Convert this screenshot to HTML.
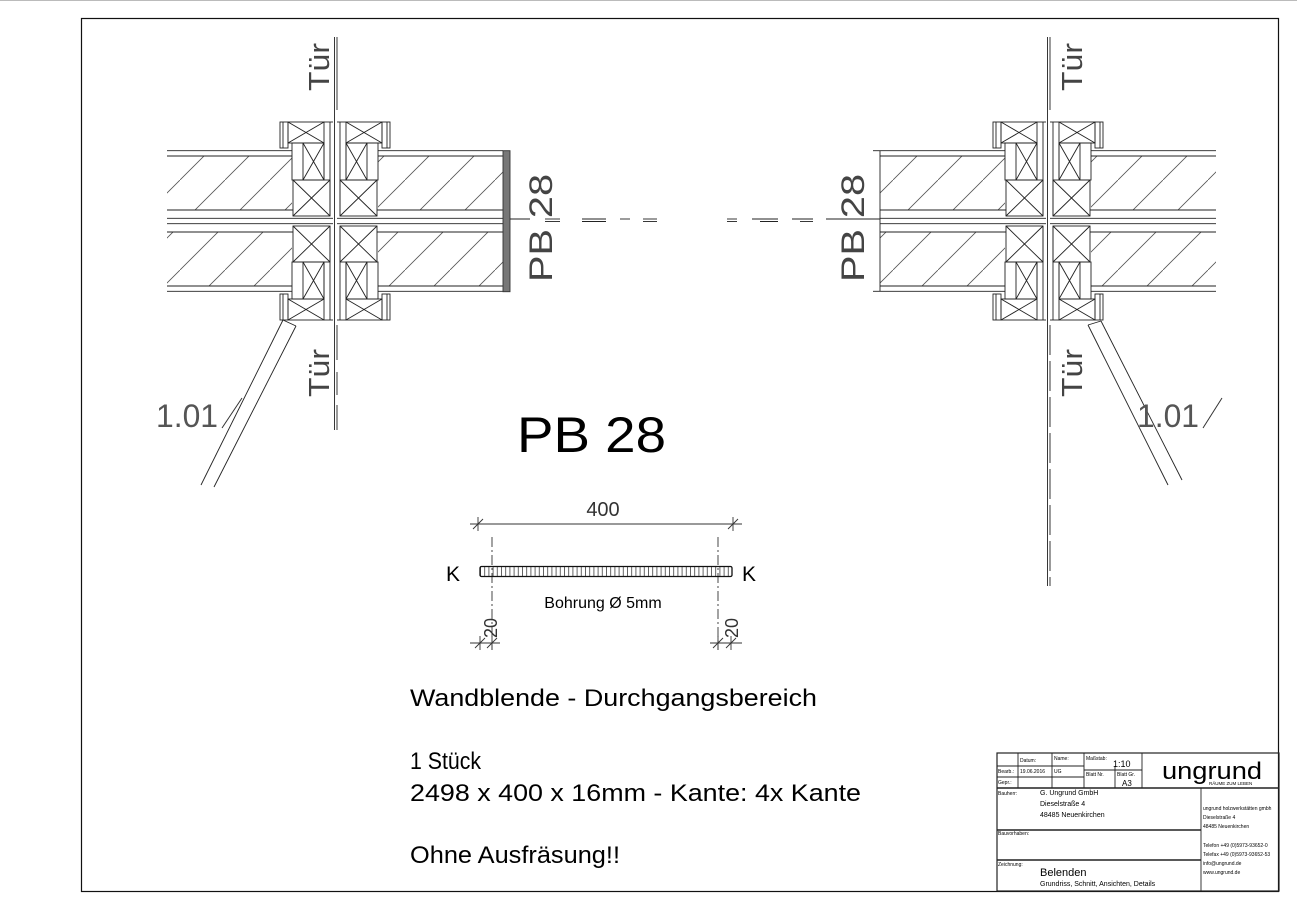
<!DOCTYPE html>
<html><head><meta charset="utf-8"><style>html,body{margin:0;padding:0;background:#fff}svg{display:block}</style></head>
<body>
<svg width="1297" height="910" viewBox="0 0 1297 910" xmlns="http://www.w3.org/2000/svg" font-family="Liberation Sans, sans-serif">
<defs>
<pattern id="h" patternUnits="userSpaceOnUse" width="45" height="45" x="0" y="0">
<line x1="-2" y1="47" x2="47" y2="-2" stroke="#555" stroke-width="0.8"/>
</pattern>
<pattern id="v" patternUnits="userSpaceOnUse" width="4.2" height="20" x="480" y="0">
<line x1="0.5" y1="0" x2="0.5" y2="20" stroke="#222" stroke-width="0.7"/>
</pattern>
<g id="q" fill="none" stroke="#222" stroke-width="0.9">
<line x1="167" y1="150.7" x2="292" y2="150.7"/>
<line x1="167" y1="156" x2="292" y2="156"/>
<line x1="167" y1="210" x2="293" y2="210"/>
<line x1="167" y1="218.3" x2="333" y2="218.3"/>
<rect x="280" y="122" width="8" height="26"/>
<line x1="283" y1="122" x2="283" y2="148"/>
<rect x="288" y="122" width="36" height="21"/>
<line x1="288" y1="122" x2="324" y2="143"/><line x1="324" y1="122" x2="288" y2="143"/>
<rect x="292" y="143" width="32" height="37"/>
<rect x="303" y="143" width="21" height="37"/>
<line x1="303" y1="143" x2="324" y2="180"/><line x1="324" y1="143" x2="303" y2="180"/>
<rect x="293" y="180" width="37" height="36"/>
<line x1="293" y1="180" x2="330" y2="216"/><line x1="330" y1="180" x2="293" y2="216"/>
<line x1="324" y1="122" x2="333" y2="122"/>
<line x1="330" y1="122" x2="330" y2="216"/>
</g>
<g id="half">
<rect x="167" y="156.5" width="125" height="53" fill="url(#h)"/>
<rect x="378" y="156.5" width="125" height="53" fill="url(#h)"/>
<rect x="167" y="232.5" width="125" height="53" fill="url(#h)"/>
<rect x="378" y="232.5" width="125" height="53" fill="url(#h)"/>
<use href="#q"/>
<use href="#q" transform="matrix(-1,0,0,1,670,0)"/>
<use href="#q" transform="matrix(1,0,0,-1,0,442)"/>
<use href="#q" transform="matrix(-1,0,0,-1,670,442)"/>
</g>
</defs>

<line x1="0" y1="0.5" x2="1297" y2="0.5" stroke="#bbb" stroke-width="1"/>
<rect x="81.5" y="18.5" width="1197" height="873" fill="none" stroke="#111" stroke-width="1.2"/>

<!-- LEFT DETAIL -->
<use href="#half"/>
<g fill="none" stroke="#222" stroke-width="0.9">
<rect x="503" y="150.7" width="7" height="141" fill="#777" stroke="#333"/>
<line x1="510" y1="219" x2="530" y2="219"/>
<line x1="545" y1="219" x2="560" y2="219"/><line x1="545" y1="221.5" x2="560" y2="221.5"/>
<line x1="582" y1="219" x2="606" y2="219"/><line x1="582" y1="221.5" x2="606" y2="221.5"/>
<line x1="620" y1="219" x2="630" y2="219"/>
<line x1="643" y1="219" x2="657" y2="219"/><line x1="643" y1="221.5" x2="657" y2="221.5"/>
<line x1="334.5" y1="37" x2="334.5" y2="110"/>
<line x1="337" y1="37" x2="337" y2="110"/>
<line x1="334.5" y1="110" x2="334.5" y2="430"/>
<line x1="337" y1="325" x2="337" y2="360"/>
<line x1="337" y1="372" x2="337" y2="395"/>
<line x1="337" y1="405" x2="337" y2="430"/>
<line x1="283" y1="320" x2="201" y2="485"/>
<line x1="296" y1="326" x2="214" y2="487"/>
<line x1="283" y1="320" x2="296" y2="326"/>
</g>
<text transform="translate(329,91) rotate(-90)" font-size="29" fill="#444" textLength="48" lengthAdjust="spacingAndGlyphs">Tür</text>
<text transform="translate(329,397) rotate(-90)" font-size="29" fill="#444" textLength="48" lengthAdjust="spacingAndGlyphs">Tür</text>
<text transform="translate(552,282) rotate(-90)" font-size="32" fill="#444" textLength="108" lengthAdjust="spacingAndGlyphs">PB 28</text>
<text x="156" y="427" font-size="32" fill="#555" textLength="62" lengthAdjust="spacingAndGlyphs">1.01</text>
<line x1="222" y1="428" x2="242" y2="398" stroke="#333" stroke-width="1"/>

<!-- RIGHT DETAIL -->
<use href="#half" transform="translate(713,0)"/>
<g fill="none" stroke="#222" stroke-width="0.9">
<line x1="880" y1="150.7" x2="880" y2="291.3"/>
<line x1="873" y1="150.7" x2="880" y2="150.7"/>
<line x1="873" y1="291.3" x2="880" y2="291.3"/>
<line x1="727" y1="219" x2="737" y2="219"/><line x1="727" y1="221.5" x2="737" y2="221.5"/>
<line x1="752" y1="219" x2="778" y2="219"/><line x1="760" y1="221.5" x2="778" y2="221.5"/>
<line x1="792" y1="219" x2="813" y2="219"/><line x1="800" y1="221.5" x2="813" y2="221.5"/>
<line x1="826" y1="219" x2="880" y2="219"/>
<line x1="1047.5" y1="37" x2="1047.5" y2="586"/>
<line x1="1050" y1="37" x2="1050" y2="110"/>
<line x1="1050" y1="325" x2="1050" y2="586" stroke-dasharray="30,6"/>
<line x1="1088" y1="325" x2="1168" y2="485"/>
<line x1="1101" y1="321" x2="1182" y2="480"/>
<line x1="1088" y1="325" x2="1101" y2="321"/>
</g>
<text transform="translate(1082,91) rotate(-90)" font-size="29" fill="#444" textLength="48" lengthAdjust="spacingAndGlyphs">Tür</text>
<text transform="translate(1082,397) rotate(-90)" font-size="29" fill="#444" textLength="48" lengthAdjust="spacingAndGlyphs">Tür</text>
<text transform="translate(864,282) rotate(-90)" font-size="32" fill="#444" textLength="108" lengthAdjust="spacingAndGlyphs">PB 28</text>
<text x="1137" y="427" font-size="32" fill="#555" textLength="62" lengthAdjust="spacingAndGlyphs">1.01</text>
<line x1="1203" y1="428" x2="1222" y2="398" stroke="#333" stroke-width="1"/>

<text x="517" y="452" font-size="50" fill="#000" textLength="149" lengthAdjust="spacingAndGlyphs">PB 28</text>

<g stroke="#333" stroke-width="0.9" fill="none">
<line x1="470" y1="524" x2="742" y2="524"/>
<line x1="478" y1="517" x2="478" y2="531"/><line x1="473" y1="529" x2="483" y2="519"/>
<line x1="733" y1="517" x2="733" y2="531"/><line x1="728" y1="529" x2="738" y2="519"/>
<line x1="492" y1="537" x2="492" y2="650" stroke-dasharray="10,3,2,3"/>
<line x1="718" y1="537" x2="718" y2="650" stroke-dasharray="10,3,2,3"/>
<rect x="480" y="566.5" width="252" height="10" fill="url(#v)" stroke="#111" stroke-width="1.3" rx="1.5"/>
<line x1="470" y1="643" x2="500" y2="643"/>
<line x1="480" y1="636" x2="480" y2="650"/><line x1="475" y1="648" x2="485" y2="638"/>
<line x1="492" y1="636" x2="492" y2="650"/><line x1="487" y1="648" x2="497" y2="638"/>
<line x1="710" y1="643" x2="742" y2="643"/>
<line x1="718" y1="636" x2="718" y2="650"/><line x1="713" y1="648" x2="723" y2="638"/>
<line x1="731" y1="636" x2="731" y2="650"/><line x1="726" y1="648" x2="736" y2="638"/>
</g>
<text x="603" y="516" font-size="20" fill="#333" text-anchor="middle">400</text>
<text x="446" y="581" font-size="21" fill="#000">K</text>
<text x="742" y="581" font-size="21" fill="#000">K</text>
<text x="603" y="608" font-size="16" fill="#000" text-anchor="middle">Bohrung Ø 5mm</text>
<text transform="translate(497,638) rotate(-90)" font-size="18" fill="#333">20</text>
<text transform="translate(738,638) rotate(-90)" font-size="18" fill="#333">20</text>

<text x="410" y="706" font-size="24.5" fill="#000" textLength="407" lengthAdjust="spacingAndGlyphs">Wandblende - Durchgangsbereich</text>
<text x="410" y="769" font-size="24" fill="#000" textLength="71" lengthAdjust="spacingAndGlyphs">1 Stück</text>
<text x="410" y="801" font-size="24.5" fill="#000" textLength="451" lengthAdjust="spacingAndGlyphs">2498 x 400 x 16mm - Kante: 4x Kante</text>
<text x="410" y="863" font-size="24.5" fill="#000" textLength="210" lengthAdjust="spacingAndGlyphs">Ohne Ausfräsung!!</text>

<g stroke="#222" stroke-width="0.9" fill="none">
<rect x="997" y="753" width="282" height="138" stroke-width="1.2"/>
<line x1="997" y1="788" x2="1279" y2="788" stroke-width="1.4"/>
<line x1="997" y1="830" x2="1201" y2="830" stroke-width="1.4"/>
<line x1="997" y1="860" x2="1201" y2="860" stroke-width="1.4"/>
<line x1="1201" y1="788" x2="1201" y2="891"/>
<line x1="1018" y1="753" x2="1018" y2="788"/>
<line x1="1052" y1="753" x2="1052" y2="788"/>
<line x1="1084" y1="753" x2="1084" y2="788"/>
<line x1="1142" y1="753" x2="1142" y2="788"/>
<line x1="1115" y1="766" x2="1115" y2="788"/>
<line x1="997" y1="766" x2="1084" y2="766"/>
<line x1="997" y1="777" x2="1084" y2="777"/>
<line x1="1084" y1="770" x2="1142" y2="770"/>
</g>
<g font-size="5" fill="#000">
<text x="1020" y="762">Datum:</text><text x="1054" y="760">Name:</text><text x="1086" y="760">Maßstab:</text>
<text x="998" y="773">Bearb.:</text><text x="1020" y="773">19.06.2016</text><text x="1054" y="773">UG</text>
<text x="1086" y="776">Blatt Nr.</text><text x="1117" y="776">Blatt Gr.</text>
<text x="998" y="784">Gepr.:</text>
<text x="998" y="795">Bauherr:</text>
<text x="998" y="835">Bauvorhaben:</text>
<text x="998" y="866">Zeichnung:</text>
<text x="1203" y="810">ungrund holzwerkstätten gmbh</text>
<text x="1203" y="819">Dieselstraße 4</text>
<text x="1203" y="828">48485 Neuenkirchen</text>
<text x="1203" y="847">Telefon +49 (0)5973-93652-0</text>
<text x="1203" y="856">Telefax +49 (0)5973-93652-53</text>
<text x="1203" y="865">info@ungrund.de</text>
<text x="1203" y="874">www.ungrund.de</text>
</g>
<text x="1113" y="767" font-size="9" fill="#000">1:10</text>
<text x="1122" y="786" font-size="8" fill="#000">A3</text>
<g font-size="7" fill="#000">
<text x="1040" y="795">G. Ungrund GmbH</text>
<text x="1040" y="806">Dieselstraße 4</text>
<text x="1040" y="817">48485 Neuenkirchen</text>
<text x="1040" y="886">Grundriss, Schnitt, Ansichten, Details</text>
</g>
<text x="1040" y="876" font-size="11" fill="#000">Belenden</text>
<text x="1162" y="779" font-size="24" fill="#000" textLength="100" lengthAdjust="spacingAndGlyphs">ungrund</text>
<text x="1209" y="785" font-size="4.5" fill="#000">RÄUME ZUM LEBEN</text>
</svg>
</body></html>
